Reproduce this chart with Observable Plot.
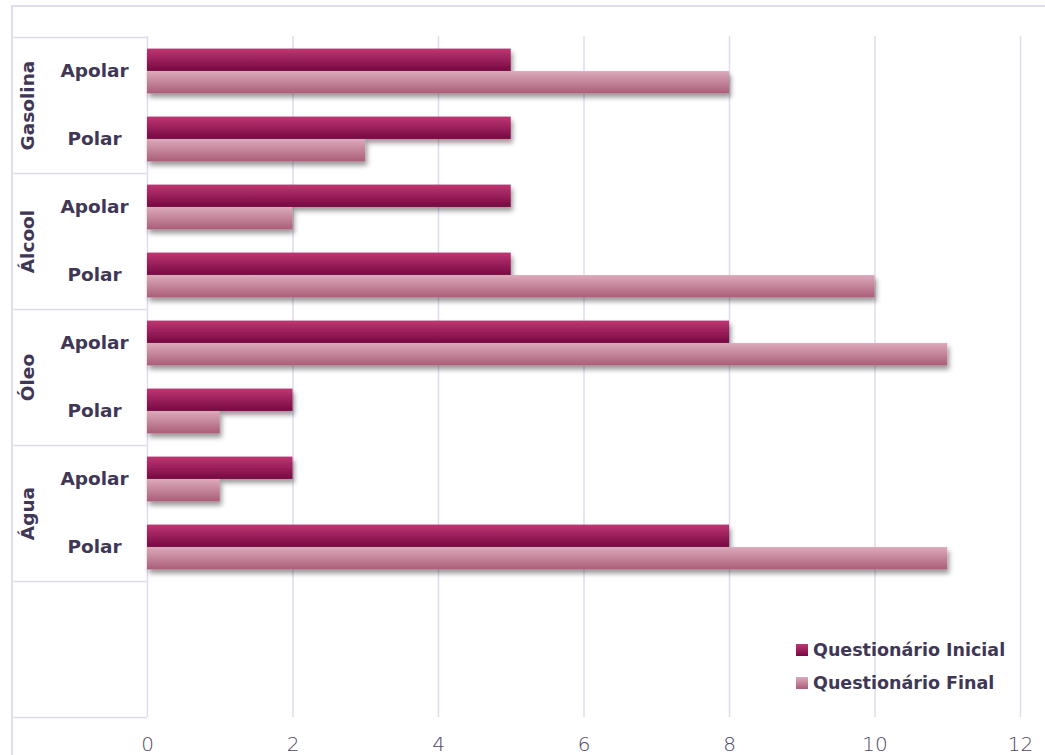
<!DOCTYPE html>
<html lang="pt">
<head>
<meta charset="utf-8">
<script src="https://cdn.jsdelivr.net/npm/d3@7"></script>
<script src="https://cdn.jsdelivr.net/npm/@observablehq/plot@0.6"></script>
<style>
  html, body { margin: 0; padding: 0; background: #fff; }
  #wrap { position: relative; width: 1045px; height: 755px; overflow: hidden; }
  #border { position: absolute; left: 11px; top: 5px; right: -4px; bottom: -4px;
            border-top: 2px solid #dedcee; border-left: 2px solid #dedcee; pointer-events: none; }
  #chart { position: absolute; left: 0; top: 0; }
  #legend { position: absolute; left: 796px; top: 637px; font-family: "DejaVu Sans", sans-serif;
            font-weight: bold; font-size: 17.5px; color: #3f3756; }
  .item { display: flex; align-items: center; height: 26px; margin-bottom: 7px; white-space: nowrap; }
  .sw { width: 12px; height: 12px; margin-right: 5px; }
</style>
</head>
<body>
<div id="wrap">
  <div id="chart"></div>
  <div id="border"></div>
  <div id="legend"></div>
</div>
<script>
// Respostas por substância e polaridade
const substances = ["Gasolina", "Álcool", "Óleo", "Água"];
const polarities = ["Apolar", "Polar"];
const series = ["Questionário Inicial", "Questionário Final"];
const inicial = [5, 5, 5, 5, 8, 2, 2, 8];
const final = [8, 3, 2, 10, 11, 1, 1, 11];
const xTicks = [0, 2, 4, 6, 8, 10, 12];

const gradients = {
  "Questionário Inicial": ["gradInicial", "#be3773", "#760842"],
  "Questionário Final": ["gradFinal", "#dcaabb", "#ab5d78"]
};

// One row per substance/polarity pair, top to bottom
const rows = [];
substances.forEach((s, i) => polarities.forEach((p, j) => {
  const k = i * 2 + j;
  rows.push({key: `${s}|${p}`, substance: s, polarity: p, inicial: inicial[k], final: final[k]});
}));
// two empty slots at the bottom hold the legend
const yDomain = [...rows.map(d => d.key), "vazio1", "vazio2"];

const width = 1045, height = 755;
const margin = {top: 36, right: 25, bottom: 38, left: 147};
const plotW = width - margin.left - margin.right;
const step = (height - margin.top - margin.bottom) / yDomain.length;
const barH = step * 0.33;
const pad = (step - 2 * barH) / 2;

const ink = "#3f3756";
const lineColor = "#dedcee";

const chart = Plot.plot({
  width, height,
  marginTop: margin.top, marginRight: margin.right,
  marginBottom: margin.bottom, marginLeft: margin.left,
  style: {fontFamily: "DejaVu Sans, sans-serif", background: "transparent"},
  x: {domain: [0, 12], ticks: xTicks},
  y: {domain: yDomain, padding: 0, axis: null},
  marks: [
    // vertical grid
    Plot.ruleX(xTicks, {stroke: lineColor, strokeWidth: 1.5}),
    // category table lines in the left margin
    Plot.ruleY([...substances.map(s => `${s}|Apolar`), "vazio1"], {
      y: d => d, dy: -step / 2, insetLeft: -(margin.left - 12), insetRight: plotW,
      stroke: lineColor, strokeWidth: 1.5
    }),
    Plot.ruleY(["vazio2"], {
      y: d => d, dy: step / 2, insetLeft: -(margin.left - 12), insetRight: plotW,
      stroke: lineColor, strokeWidth: 1.5
    }),
    // bars
    Plot.barX(rows, {
      y: "key", x: "inicial", fill: "url(#gradInicial)",
      insetTop: pad, insetBottom: step - pad - barH
    }),
    Plot.barX(rows, {
      y: "key", x: "final", fill: "url(#gradFinal)",
      insetTop: pad + barH, insetBottom: pad
    }),
    // polarity labels
    Plot.text(rows, {
      y: "key", text: "polarity", frameAnchor: "left", dx: -53,
      textAnchor: "middle", fontSize: 18.5, fontWeight: "bold", fill: ink
    }),
    // substance labels, rotated
    Plot.text(substances, {
      y: d => `${d}|Apolar`, text: d => d, frameAnchor: "left", dx: -119, dy: step / 2,
      rotate: -90, textAnchor: "middle", fontSize: 18.5, fontWeight: "bold", fill: ink
    }),
    Plot.axisX({
      ticks: xTicks, tickSize: 0, tickPadding: 19, fontSize: 20,
      fill: "#4d4665", fontWeight: 300, label: null, tickFormat: d => String(d)
    })
  ]
});

// gradient and shadow definitions
const svg = d3.select(chart);
const defs = svg.insert("defs", ":first-child");
for (const s of series) {
  const [id, top, bottom] = gradients[s];
  const g = defs.append("linearGradient").attr("id", id)
    .attr("x1", 0).attr("y1", 0).attr("x2", 0).attr("y2", 1);
  g.append("stop").attr("offset", "0%").attr("stop-color", top);
  g.append("stop").attr("offset", "100%").attr("stop-color", bottom);
}
const f = defs.append("filter").attr("id", "barShadow")
  .attr("x", "-5%").attr("y", "-30%").attr("width", "115%").attr("height", "190%");
f.append("feDropShadow").attr("dx", 2).attr("dy", 4).attr("stdDeviation", 2.5)
  .attr("flood-color", "#000").attr("flood-opacity", 0.4);
svg.selectAll("g[aria-label='bar']").attr("filter", "url(#barShadow)");

document.getElementById("chart").appendChild(chart);

// legend
const legend = d3.select("#legend");
for (const s of series) {
  const [, top, bottom] = gradients[s];
  const item = legend.append("div").attr("class", "item");
  item.append("div").attr("class", "sw")
    .style("background", `linear-gradient(${top}, ${bottom})`);
  item.append("span").text(s);
}
</script>
</body>
</html>
